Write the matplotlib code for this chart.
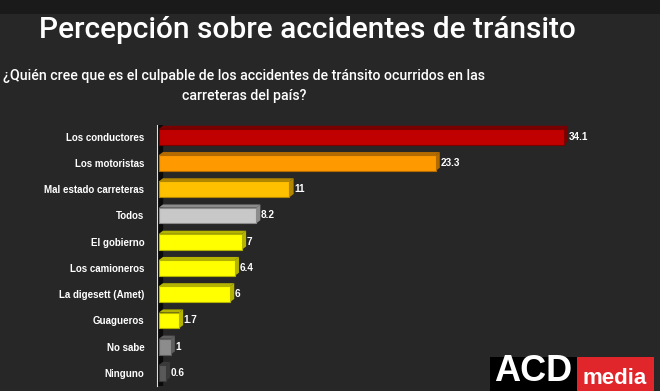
import matplotlib
matplotlib.use("Agg")
import matplotlib.pyplot as plt
from matplotlib.patches import Polygon, Rectangle

categories = ["Los conductores", "Los motoristas", "Mal estado carreteras", "Todos",
              "El gobierno", "Los camioneros", "La digesett (Amet)", "Guagueros",
              "No sabe", "Ninguno"]
values = [34.1, 23.3, 11, 8.2, 7, 6.4, 6, 1.7, 1, 0.6]
value_labels = ["34.1", "23.3", "11", "8.2", "7", "6.4", "6", "1.7", "1", "0.6"]
colors = ["#C00000", "#FF9900", "#FFC000", "#C8C8C8", "#FFFF00", "#FFFF00",
          "#FFFF00", "#FFFF00", "#8C8C8C", "#595959"]
side_colors = ["#7A0000", "#B36B00", "#B38600", "#8C8C8C", "#B3B300", "#B3B300",
               "#B3B300", "#B3B300", "#5E5E5E", "#3A3A3A"]

title = "Percepción sobre accidentes de tránsito"
subtitle = "¿Quién cree que es el culpable de los accidentes de tránsito ocurridos en las\ncarreteras del país?"

W, H = 660, 391
fig = plt.figure(figsize=(W / 100, H / 100), dpi=100)
fig.patch.set_facecolor("#272727")
fig.patches.append(Rectangle((0, 1 - 14 / H), 1, 14 / H, transform=fig.transFigure,
                             facecolor="#1A1A1A", edgecolor="none", zorder=0))

fig.text(307 / W, 1 - 30 / H, title, ha="center", va="center", color="white",
         fontsize=21.5, fontfamily="Roboto", fontweight="medium")
fig.text(244 / W, 1 - 86 / H, subtitle, ha="center", va="center", color="white",
         fontsize=10.2, fontfamily="Roboto", fontweight="medium", linespacing=1.55)

ax = fig.add_axes([157 / W, 5 / H, (620 - 157) / W, (386 - 125) / H])
ax.set_facecolor("none")
n = len(categories)
ypos = list(range(n))
bh = 0.6
dx, dy = 0.35, 0.12

ax.axvspan(0, 0.45, color="#0A0A0A", zorder=1)
bars = ax.barh(ypos, values, height=bh, color=colors, edgecolor=side_colors,
               linewidth=0.8, zorder=3, left=0.15)
for y, v, sc, c in zip(ypos, values, side_colors, colors):
    x0, x1 = 0.15, 0.15 + v
    top = y - bh / 2
    bot = y + bh / 2
    ax.add_patch(Polygon([(x0, top), (x0 + dx, top - dy), (x1 + dx, top - dy), (x1, top)],
                         closed=True, facecolor=sc, edgecolor="none", zorder=2))
    ax.add_patch(Polygon([(x1, top), (x1 + dx, top - dy), (x1 + dx, bot - dy), (x1, bot)],
                         closed=True, facecolor=sc, edgecolor="none", zorder=2))

for y, v, lab in zip(ypos, values, value_labels):
    ax.text(0.15 + v + dx + 0.05, y, lab, ha="left", va="center", color="white",
            fontsize=7.2, fontweight="bold", fontfamily="Liberation Sans", zorder=5)

ax.set_xlim(0, (620 - 157) / 11.88)
ax.set_ylim(n - 0.5, -0.45)
ax.set_yticks(ypos)
ax.set_yticklabels(categories, fontsize=7, fontweight="bold", fontfamily="Liberation Sans",
                   color="white")
ax.tick_params(axis="y", length=0, pad=9)
ax.set_xticks([])
for s in ["top", "right", "bottom"]:
    ax.spines[s].set_visible(False)
ax.spines["left"].set_color("#DDDDDD")
ax.spines["left"].set_linewidth(0.8)

# logo
fig.patches.append(Rectangle((490 / W, 0), 87 / W, 34 / H, transform=fig.transFigure,
                             facecolor="black", edgecolor="none", zorder=5))
fig.patches.append(Rectangle((577 / W, 0), 77 / W, 34 / H, transform=fig.transFigure,
                             facecolor="#E0262B", edgecolor="none", zorder=5))
fig.text(533 / W, 2 / H, "ACD", ha="center", va="bottom", color="white", fontsize=26,
         fontweight="bold", fontfamily="Liberation Sans", zorder=6)
fig.text(615 / W, 2 / H, "media", ha="center", va="bottom", color="white", fontsize=16,
         fontweight="bold", fontfamily="Liberation Sans", zorder=6)

fig.savefig("out.png", dpi=100, facecolor=fig.get_facecolor())
